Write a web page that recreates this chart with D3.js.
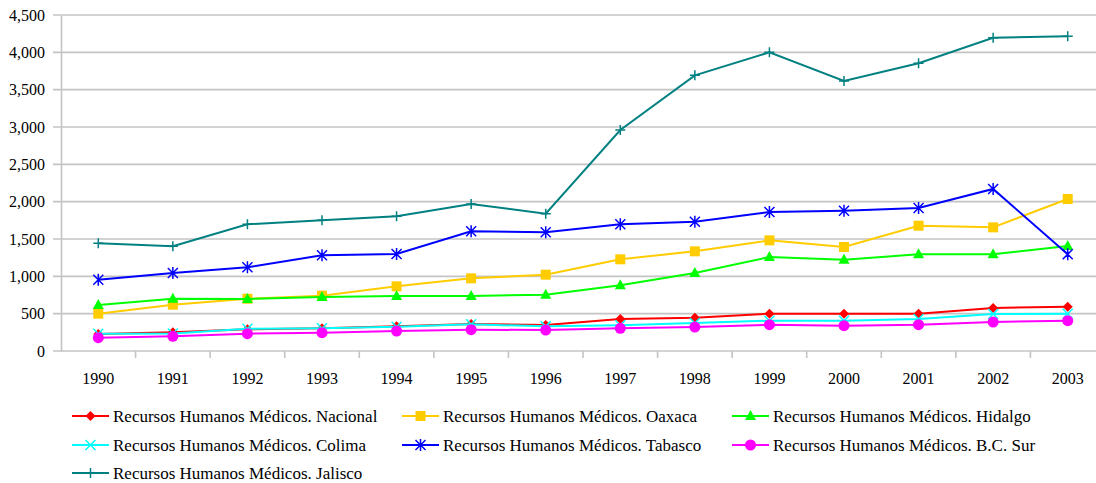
<!DOCTYPE html>
<html>
<head>
<meta charset="utf-8">
<script src="https://cdn.jsdelivr.net/npm/d3@7"></script>
<style>
  body { margin: 0; background: #fff; }
</style>
</head>
<body>
<svg width="1096" height="483"></svg>
<script>
const years = ['1990','1991','1992','1993','1994','1995','1996','1997','1998','1999','2000','2001','2002','2003'];
const yTicks = [0, 500, 1000, 1500, 2000, 2500, 3000, 3500, 4000, 4500];

const nacional = [228, 250, 290, 304, 330, 362, 348, 429, 446, 500, 500, 500, 576, 594];
const oaxaca   = [500, 620, 700, 741, 866, 973, 1022, 1228, 1335, 1482, 1393, 1678, 1656, 2036];
const hidalgo  = [616, 700, 698, 723, 737, 737, 754, 880, 1045, 1259, 1223, 1295, 1295, 1406];
const colima   = [232, 235, 299, 304, 326, 357, 330, 344, 375, 406, 406, 429, 495, 500];
const tabasco  = [955, 1045, 1121, 1282, 1299, 1603, 1590, 1697, 1732, 1862, 1879, 1915, 2170, 1295];
const bcsur    = [178, 197, 232, 245, 268, 285, 281, 304, 321, 352, 339, 352, 388, 406];
const jalisco  = [1442, 1402, 1697, 1750, 1804, 1969, 1839, 2960, 3692, 4000, 3616, 3853, 4196, 4214];

const seriesNames = [
  'Recursos Humanos Médicos. Nacional',
  'Recursos Humanos Médicos. Oaxaca',
  'Recursos Humanos Médicos. Hidalgo',
  'Recursos Humanos Médicos. Colima',
  'Recursos Humanos Médicos. Tabasco',
  'Recursos Humanos Médicos. B.C. Sur',
  'Recursos Humanos Médicos. Jalisco'
];
const seriesValues = [nacional, oaxaca, hidalgo, colima, tabasco, bcsur, jalisco];
const seriesColors = ['#ff0000', '#ffcc00', '#00ff00', '#00ffff', '#0000ff', '#ff00ff', '#008080'];
const seriesMarkers = ['diamond', 'square', 'triangle', 'x', 'asterisk', 'circle', 'plus'];

const serif = 'Liberation Serif';

const svg = d3.select('svg');
const width = +svg.attr('width');

const x = d3.scaleBand().domain(years).range([61, 1105]).padding(0);
const y = d3.scaleLinear().domain([0, 4500]).range([351, 15]);

// grid lines
svg.append('g').selectAll('line').data(yTicks).enter()
  .append('line')
    .attr('x1', 53).attr('x2', width)
    .attr('y1', d => y(d)).attr('y2', d => y(d))
    .attr('stroke', '#c4c4c4').attr('stroke-width', 1.6);

// y axis
const yAxisG = svg.append('g')
  .attr('transform', 'translate(61,0)')
  .call(d3.axisLeft(y).tickValues(yTicks).tickFormat(d3.format(',')).tickSize(0).tickPadding(16));
yAxisG.select('.domain').attr('stroke', '#c4c4c4').attr('stroke-width', 1.6);
yAxisG.attr('font-family', serif).attr('font-size', 16);
yAxisG.selectAll('text').style('font-family', serif);

// x axis
const xAxisG = svg.append('g')
  .attr('transform', 'translate(0,351)')
  .call(d3.axisBottom(x).tickSize(0).tickPadding(22));
xAxisG.select('.domain').remove();
xAxisG.attr('font-family', serif).attr('font-size', 16);
xAxisG.selectAll('text').style('font-family', serif);
svg.append('g').selectAll('line').data(years).enter()
  .append('line')
    .attr('x1', d => x(d) + x.bandwidth()).attr('x2', d => x(d) + x.bandwidth())
    .attr('y1', 351).attr('y2', 358)
    .attr('stroke', '#c4c4c4').attr('stroke-width', 1.6);

// markers
const drawMarker = (sel, type, color) => {
  const s = 5;
  if (type === 'diamond') {
    sel.append('path').attr('d', `M0,${-s}L${s},0L0,${s}L${-s},0Z`).attr('fill', color);
  } else if (type === 'square') {
    sel.append('rect').attr('x', -s).attr('y', -s).attr('width', 2 * s).attr('height', 2 * s).attr('fill', color);
  } else if (type === 'triangle') {
    sel.append('path').attr('d', `M0,${-s - 1}L${s + 0.5},${s - 1}L${-s - 0.5},${s - 1}Z`).attr('fill', color);
  } else if (type === 'circle') {
    sel.append('circle').attr('r', s + 0.5).attr('fill', color);
  } else if (type === 'x') {
    sel.append('path').attr('d', `M${-s},${-s}L${s},${s}M${-s},${s}L${s},${-s}`)
      .attr('stroke', color).attr('stroke-width', 1.5).attr('fill', 'none');
  } else if (type === 'asterisk') {
    sel.append('path').attr('d', `M${-s},${-s}L${s},${s}M${-s},${s}L${s},${-s}M0,${-s - 1}L0,${s + 1}`)
      .attr('stroke', color).attr('stroke-width', 1.5).attr('fill', 'none');
  } else if (type === 'plus') {
    sel.append('path').attr('d', `M${-s},0L${s},0M0,${-s}L0,${s}`)
      .attr('stroke', color).attr('stroke-width', 1.5).attr('fill', 'none');
  }
};

const line = d3.line()
  .x((d, i) => x(years[i]) + x.bandwidth() / 2)
  .y(d => y(d));

seriesValues.forEach((vals, k) => {
  const g = svg.append('g');
  g.append('path')
    .attr('d', line(vals))
    .attr('fill', 'none')
    .attr('stroke', seriesColors[k])
    .attr('stroke-width', 2);
  vals.forEach((v, i) => {
    const m = g.append('g')
      .attr('transform', `translate(${x(years[i]) + x.bandwidth() / 2},${y(v)})`);
    drawMarker(m, seriesMarkers[k], seriesColors[k]);
  });
});

// legend
const legendCols = [72, 402, 732];
const legendRows = [416, 445, 473];
seriesNames.forEach((name, k) => {
  const lg = svg.append('g')
    .attr('transform', `translate(${legendCols[k % 3]},${legendRows[Math.floor(k / 3)]})`);
  lg.append('line').attr('x1', 0).attr('x2', 37).attr('y1', 0).attr('y2', 0)
    .attr('stroke', seriesColors[k]).attr('stroke-width', 2);
  const m = lg.append('g').attr('transform', 'translate(18.5,0)');
  drawMarker(m, seriesMarkers[k], seriesColors[k]);
  lg.append('text')
    .attr('x', 41).attr('y', 0).attr('dy', '0.35em')
    .attr('font-family', serif)
    .style('font-family', serif)
    .attr('font-size', '17px')
    .text(name);
});
</script>
</body>
</html>
